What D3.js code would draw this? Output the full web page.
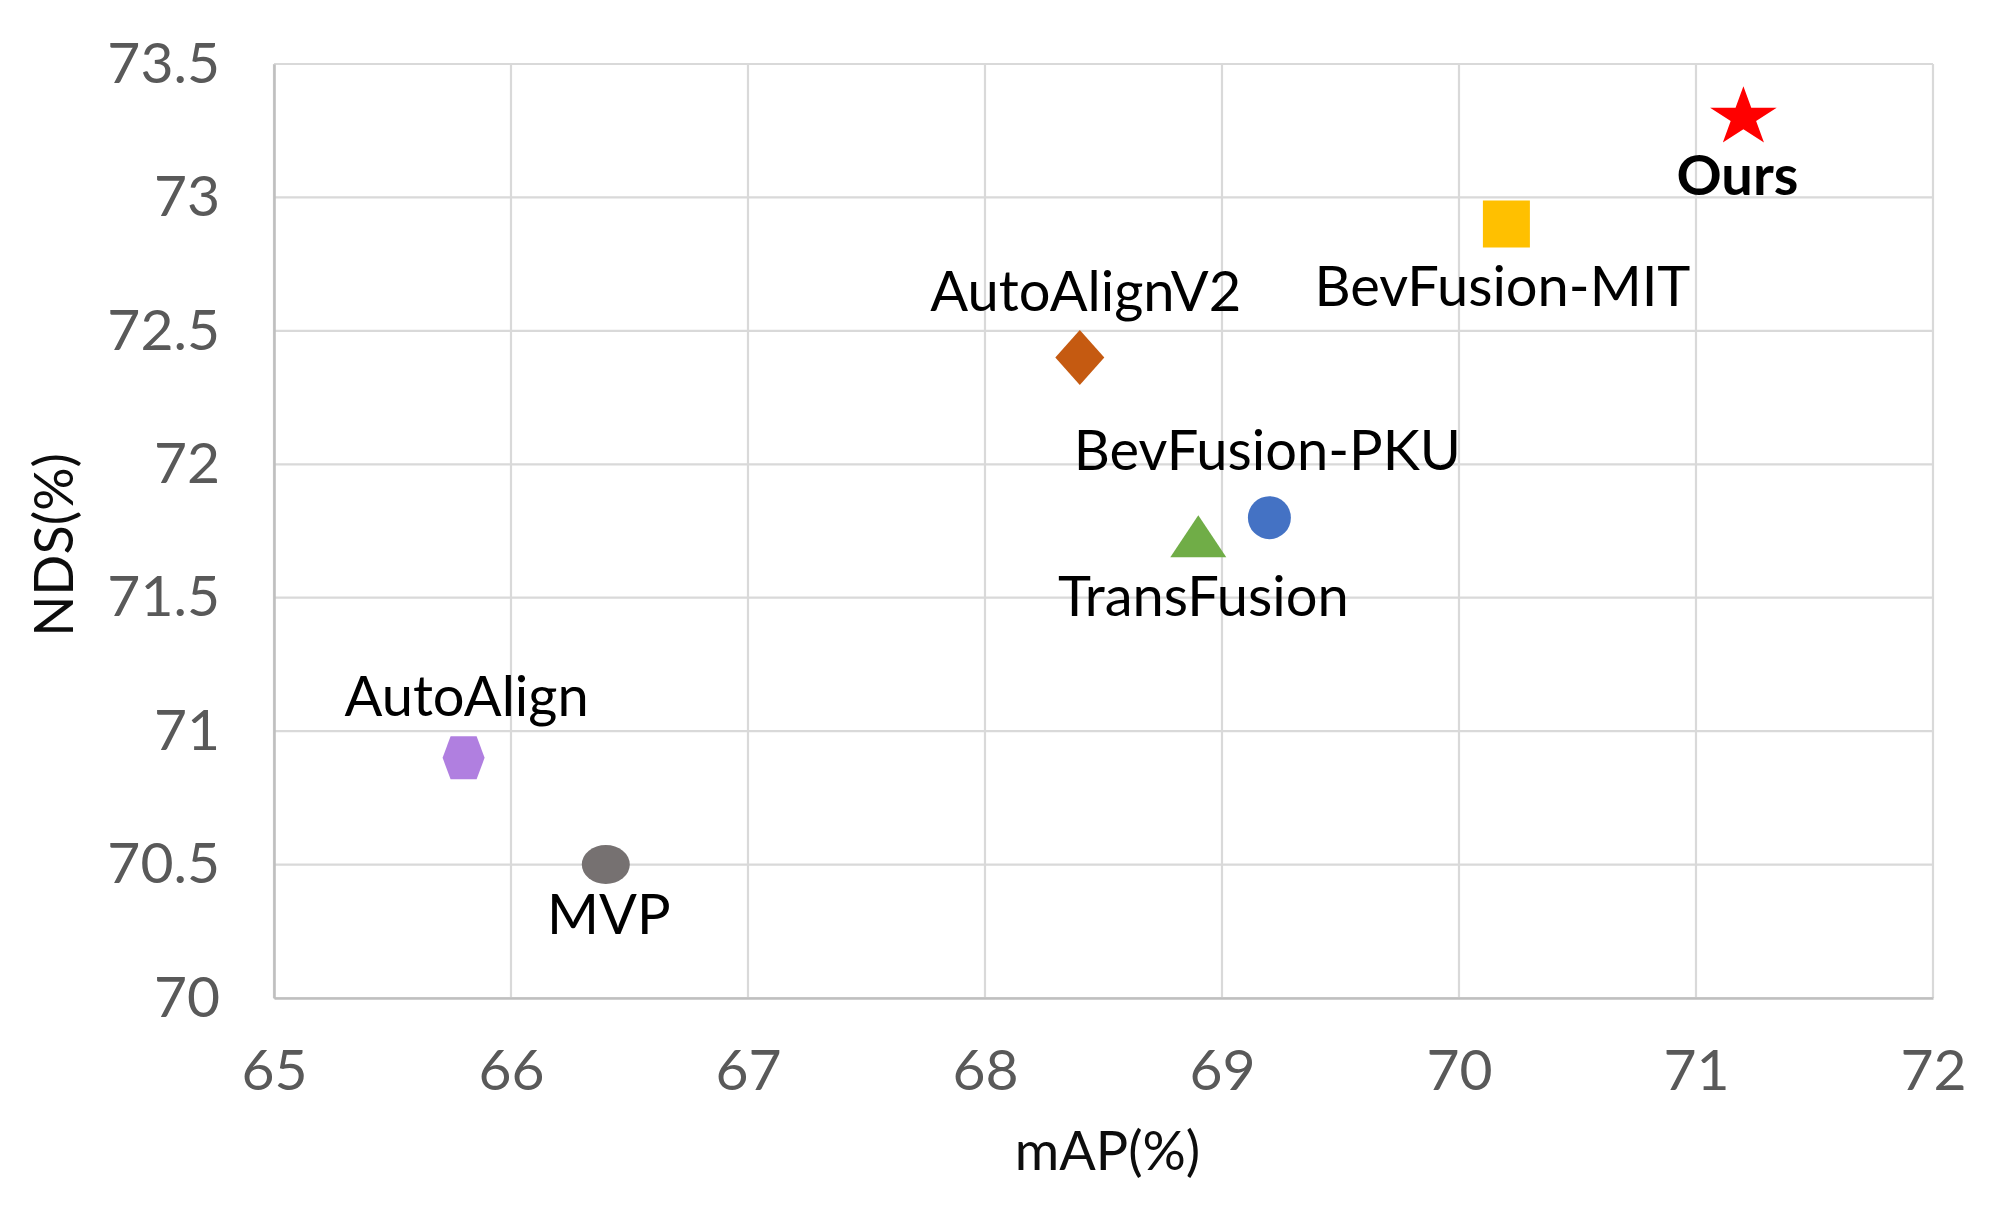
<!DOCTYPE html>
<html>
  <head>
    <meta charset="utf-8">
    <title>mAP vs NDS</title>
    <script src="https://cdn.jsdelivr.net/npm/d3@7/dist/d3.min.js"></script>
    <style>
      body { margin: 0; background: #fff; }
      text { font-family: Lato, "Open Sans", sans-serif; }
    </style>
  </head>
  <body>
    <svg width="1989" height="1209"></svg>
    <script>

      // data
      const methods = ["Ours", "BevFusion-MIT", "AutoAlignV2", "BevFusion-PKU", "TransFusion", "AutoAlign", "MVP"];
      const mapValues = [71.2, 70.2, 68.4, 69.2, 68.9, 65.8, 66.4];
      const ndsValues = [73.3, 72.9, 72.4, 71.8, 71.7, 70.9, 70.5];
      const xTicks = [65, 66, 67, 68, 69, 70, 71, 72];
      const yTicks = [70, 70.5, 71, 71.5, 72, 72.5, 73, 73.5];

      const points = methods.map((name, i) => ({ name, map: mapValues[i], nds: ndsValues[i] }));

      // look of each marker + where its label sits (px from the point)
      const starPath = (() => {
        const pts = d3.range(10).map(i => {
          const a = -Math.PI / 2 + i * Math.PI / 5;
          const r = i % 2 === 0 ? 1 : 0.382;
          return [35 * r * Math.cos(a), 31 * r * Math.sin(a)];
        });
        return "M" + pts.join("L") + "Z";
      })();

      const style = {
        "Ours":          { color: "#ff0000", path: starPath, label: [-6, 78], bold: true },
        "BevFusion-MIT": { color: "#ffc000", path: "M-23.5,-23.5H23.5V23.5H-23.5Z", label: [-4, 82] },
        "AutoAlignV2":   { color: "#c55a11", path: "M0,-27.5L24.5,0L0,27.5L-24.5,0Z", label: [6, -47] },
        "BevFusion-PKU": { color: "#4472c4", path: "M-21.5,0A21.5,21.5 0 1,0 21.5,0A21.5,21.5 0 1,0 -21.5,0Z", label: [-2, -48] },
        "TransFusion":   { color: "#70ad47", path: "M0,-29L28,13L-28,13Z", label: [5, 72] },
        "AutoAlign":     { color: "#b07fe0", path: "M-21,0L-13,-21.5L13,-21.5L21,0L13,21.5L-13,21.5Z", label: [3, -42] },
        "MVP":           { color: "#767171", path: "M-24,0A24,19.5 0 1,0 24,0A24,19.5 0 1,0 -24,0Z", label: [3, 69] }
      };

      const svg = d3.select("svg");

      const margin = { left: 274, right: 56, top: 64, bottom: 211 };
      const width = +svg.attr("width") - margin.left - margin.right;
      const height = +svg.attr("height") - margin.top - margin.bottom;

      const x = d3.scaleLinear().domain([65, 72]).range([0, width]);
      const y = d3.scaleLinear().domain([70, 73.5]).range([height, 0]);

      const g = svg.append("g")
        .attr("transform", `translate(${margin.left},${margin.top})`);

      // gridlines
      g.append("g")
        .selectAll("line")
        .data(xTicks)
        .join("line")
          .attr("x1", d => x(d)).attr("x2", d => x(d))
          .attr("y1", 0).attr("y2", height)
          .attr("stroke", "#d9d9d9")
          .attr("stroke-width", 2.2);

      g.append("g")
        .selectAll("line")
        .data(yTicks)
        .join("line")
          .attr("x1", 0).attr("x2", width)
          .attr("y1", d => y(d)).attr("y2", d => y(d))
          .attr("stroke", "#d9d9d9")
          .attr("stroke-width", 2.2);

      // axes
      const xAxis = g.append("g")
        .attr("transform", `translate(0,${height})`)
        .call(d3.axisBottom(x).tickValues(xTicks).tickSize(0).tickPadding(0).tickFormat(d3.format("d")));

      const yAxis = g.append("g")
        .call(d3.axisLeft(y).tickValues(yTicks).tickSize(0).tickPadding(0).tickFormat(d => String(d)));

      [xAxis, yAxis].forEach(ax => {
        ax.select(".domain").attr("stroke", "#bfbfbf").attr("stroke-width", 2.6);
        ax.selectAll("text")
          .attr("fill", "#595959")
          .style("font-size", "57px");
      });

      xAxis.selectAll("text").attr("y", 92).attr("dy", 0);
      yAxis.selectAll("text").attr("x", -54).attr("dy", "0.32em");

      // axis titles
      svg.append("text")
        .attr("x", margin.left + width / 2 + 4)
        .attr("y", 1170)
        .attr("text-anchor", "middle")
        .attr("fill", "#0d0d0d")
        .style("font-size", "54px")
        .text("mAP(%)");

      svg.append("text")
        .attr("transform", `translate(73,${margin.top + height / 2 + 14}) rotate(-90)`)
        .attr("text-anchor", "middle")
        .attr("fill", "#0d0d0d")
        .style("font-size", "54px")
        .text("NDS(%)");

      // markers
      g.selectAll("path.marker")
        .data(points)
        .join("path")
          .attr("class", "marker")
          .attr("transform", d => `translate(${x(d.map)},${y(d.nds)})`)
          .attr("d", d => style[d.name].path)
          .attr("fill", d => style[d.name].color);

      // labels
      g.selectAll("text.label")
        .data(points)
        .join("text")
          .attr("class", "label")
          .attr("x", d => x(d.map) + style[d.name].label[0])
          .attr("y", d => y(d.nds) + style[d.name].label[1])
          .attr("text-anchor", "middle")
          .attr("fill", "#000")
          .style("font-size", "56px")
          .style("font-weight", d => style[d.name].bold ? "bold" : "normal")
          .text(d => d.name);

    </script>
  </body>
</html>
